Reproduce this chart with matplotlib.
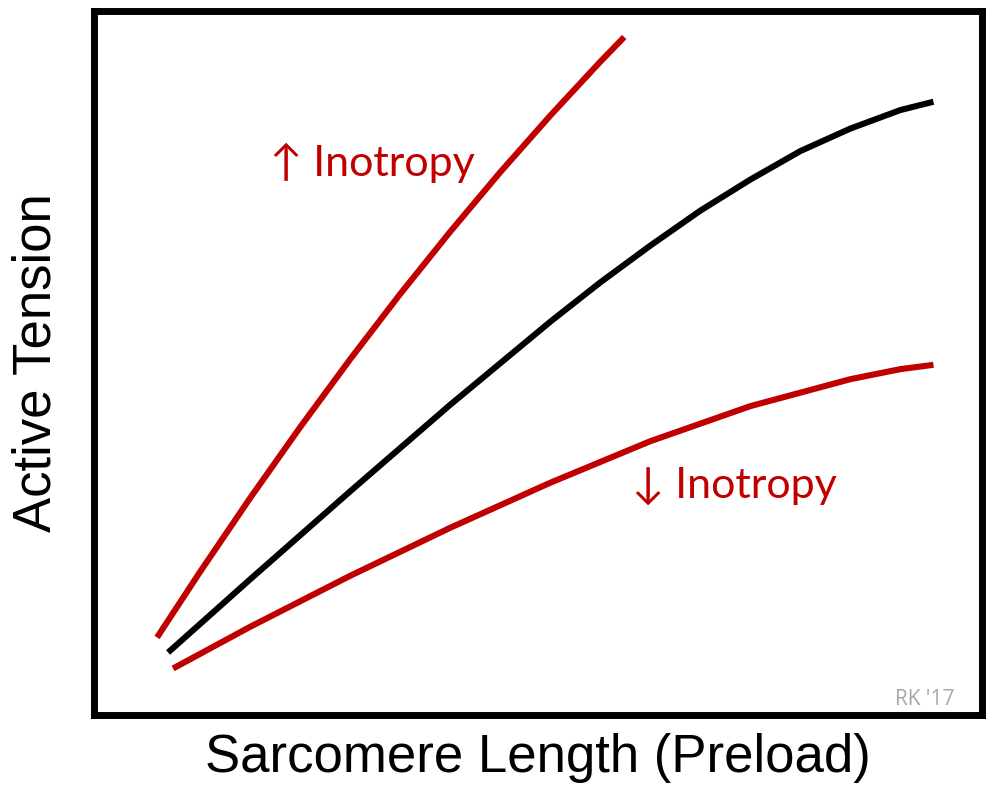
import numpy as np
import matplotlib
matplotlib.use("Agg")
import matplotlib.pyplot as plt

RED = "#C00000"

# curves (x: sarcomere length, y: active tension, arbitrary 0-100 units)
up_x = [7.15, 11.99, 17.61, 23.24, 28.87, 34.49, 40.12, 45.75, 51.38, 57.0, 59.7]
up_y = [10.95, 20.27, 30.73, 40.80, 50.46, 59.72, 68.57, 77.03, 85.07, 92.72, 96.23]

base_x = [8.39, 17.61, 28.87, 40.12, 51.38, 57.0, 62.63, 68.26, 73.88, 79.51, 85.14, 90.77, 94.48]
base_y = [8.81, 19.19, 31.70, 43.99, 55.79, 61.37, 66.60, 71.57, 75.98, 80.03, 83.23, 85.86, 87.04]

down_x = [8.95, 17.61, 28.87, 40.12, 51.38, 62.63, 73.88, 85.14, 90.77, 94.48]
down_y = [6.54, 12.45, 19.70, 26.52, 32.92, 38.82, 43.80, 47.63, 49.06, 49.67]

labels = ["\u2191 Inotropy", "\u2193 Inotropy"]

fig = plt.figure(figsize=(9.98, 7.94), dpi=100)
ax = fig.add_axes([93.5 / 998, 1 - 714.5 / 794, (982.5 - 93.5) / 998, (714.5 - 10.5) / 794])

for xs, ys, c in [(up_x, up_y, RED), (base_x, base_y, "black"), (down_x, down_y, RED)]:
    ax.plot(xs, ys, color=c, lw=4.4, solid_capstyle="butt", solid_joinstyle="round")

ax.set_xlim(0, 100)
ax.set_ylim(0, 100)
ax.set_xticks([])
ax.set_yticks([])
for sp in ax.spines.values():
    sp.set_linewidth(5.0)
    sp.set_color("black")
    sp.set_capstyle("projecting")

ax.text(19.9, 76.5, labels[0], color=RED, fontsize=31, family=["Lato", "DejaVu Sans"], va="baseline")
ax.text(60.6, 30.8, labels[1], color=RED, fontsize=31, family=["Lato", "DejaVu Sans"], va="baseline")
ax.text(96.9, 1.3, "RK '17", color="#a8a8a8", fontsize=15, family=["Open Sans", "DejaVu Sans"],
        ha="right", va="baseline")

ax.set_xlabel("Sarcomere Length (Preload)", fontsize=38, family="Liberation Sans", labelpad=13)
ax.set_ylabel("Active Tension", fontsize=38, family="Liberation Sans", labelpad=23)

fig.savefig("out.png", dpi=100)
